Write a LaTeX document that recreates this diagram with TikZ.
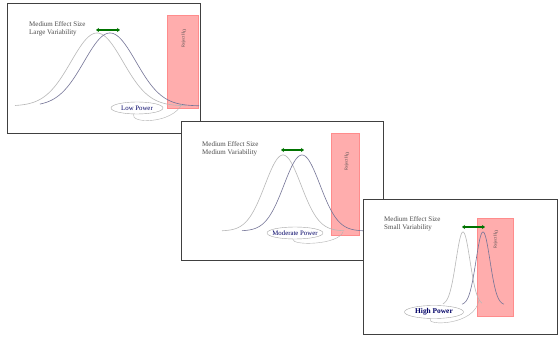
\documentclass[tikz,border=0pt]{standalone}
\usepackage{fontspec}
\setmainfont{Liberation Serif}
\usetikzlibrary{shapes.geometric,arrows.meta}

\tikzset{
  panel/.style={draw=black!75, fill=white, line width=0.7pt},
  reject/.style={fill=red!32, draw=red!45, line width=0.3pt},
  lbl/.style={font=\fontsize{7}{8.2}\selectfont, text=black!70, align=left, anchor=north west, inner sep=0pt},
  rejlbl/.style={font=\fontsize{4.4}{5}\selectfont, rotate=90, text=black!70, inner sep=0pt},
  power/.style={ellipse, draw=black!35, fill=white, line width=0.4pt, inner xsep=-12pt, inner ysep=0pt, font=\fontsize{6.8}{7}\selectfont, text=blue!40!black},
  diff/.style={{Stealth[length=3pt,width=4pt]}-{Stealth[length=3pt,width=4pt]}, draw=green!45!black, line width=1.5pt},
  nullc/.style={draw=black!28, line width=0.6pt},
  altc/.style={draw=blue!25!black!55, line width=0.6pt},
  tail/.style={draw=black!30, line width=0.4pt}
}

\begin{document}
\begin{tikzpicture}[x=1pt, y=-1pt]
        \useasboundingbox (0,0) rectangle (558,339);

        \draw[panel] (7,3) rectangle (200,133);
        \draw[reject] (167,15) rectangle (198,108);
        \node[rejlbl] (R1) at (184,38) {Reject H$_0$};
        \node[lbl] (T1) at (29,21) {Medium Effect Size\\Large Variability};
        \draw[nullc] plot[domain=15:186, samples=90] (\x, {106-73*exp(-((\x-97)/26)*((\x-97)/26)/2)});
        \draw[altc] plot[domain=40:199, samples=90] (\x, {106-73*exp(-((\x-110)/26)*((\x-110)/26)/2)});
        \coordinate (A1) at (96,30);
        \coordinate (B1) at (120,30);
        \draw[diff] (A1) -- (B1);
        \node[power, minimum width=52pt, minimum height=12pt] (P1) at (137,108) {Low Power};
        \coordinate (E1) at (182,104);
        \draw[tail] (P1.-120) .. controls (130,124) and (172,124) .. (E1);

        \draw[panel] (181,121) rectangle (383,260);
        \draw[reject] (331,133) rectangle (359,235);
        \node[rejlbl] (R2) at (347,161) {Reject H$_0$};
        \node[lbl] (T2) at (202,141) {Medium Effect Size\\Medium Variability};
        \draw[nullc] plot[domain=222:344, samples=90] (\x, {231-76*exp(-((\x-283)/18)*((\x-283)/18)/2)});
        \draw[altc] plot[domain=242:375, samples=90] (\x, {231-76*exp(-((\x-302)/18)*((\x-302)/18)/2)});
        \coordinate (A2) at (281,150);
        \coordinate (B2) at (304,150);
        \draw[diff] (A2) -- (B2);
        \node[power, minimum width=56pt, minimum height=12pt] (P2) at (295,233) {Moderate Power};
        \coordinate (E2) at (343,232);
        \draw[tail] (P2.-110) .. controls (292,246) and (338,245) .. (E2);

        \draw[panel] (363,199) rectangle (557,334);
        \draw[reject] (477,218) rectangle (513,316);
        \node[rejlbl] (R3) at (496,239) {Reject H$_0$};
        \node[lbl] (T3) at (384,216) {Medium Effect Size\\Small Variability};
        \draw[nullc] plot[domain=443:482, samples=90] (\x, {305-73*exp(-((\x-463)/7)*((\x-463)/7)/2)});
        \draw[altc] plot[domain=462:504, samples=90] (\x, {305-73*exp(-((\x-483)/7)*((\x-483)/7)/2)});
        \coordinate (A3) at (462,227);
        \coordinate (B3) at (485,227);
        \draw[diff] (A3) -- (B3);
        \node[power, minimum width=59pt, minimum height=13pt, font=\fontsize{7.4}{8}\selectfont\bfseries] (P3) at (434,312) {High Power};
        \coordinate (E3) at (479,300);
        \draw[tail] (P3.-120) .. controls (425,326) and (475,326) .. (E3);
\end{tikzpicture}
\end{document}
